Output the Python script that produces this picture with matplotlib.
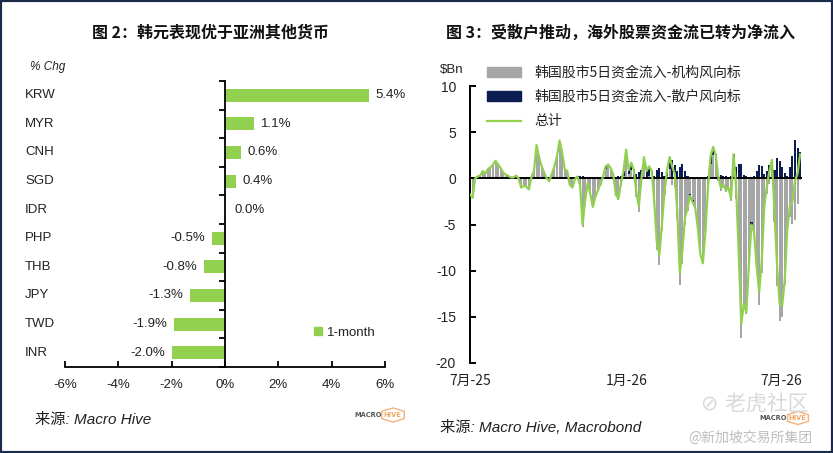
import matplotlib
matplotlib.use("Agg")
import matplotlib.pyplot as plt
from matplotlib import font_manager
from matplotlib.patches import Patch, Rectangle, RegularPolygon
from matplotlib.lines import Line2D
import matplotlib.transforms as mtransforms
import matplotlib.dates as mdates
import numpy as np
import pandas as pd

# ---------------- data ----------------
currencies = ['KRW', 'MYR', 'CNH', 'SGD', 'IDR', 'PHP', 'THB', 'JPY', 'TWD', 'INR']
chg_1m = [5.4, 1.1, 0.6, 0.4, 0.0, -0.5, -0.8, -1.3, -1.9, -2.0]
left_xticks = [-6, -4, -2, 0, 2, 4, 6]

flow_start = '2025-07-01'
flow_step_days = 3
total_flow = [
    -1.75, -2.1, 0.0, 0.2, 0.3, 0.8, 0.5, 1.0, 1.2, 1.5,
    1.9, 1.5, 1.1, 0.6, 0.4, 0.25, 0.1, 0.1, 0.3, 0.0,
    -1.0, -0.8, -0.9, -1.2, 0.1, 0.8, 3.6, 2.3, 1.3, 0.6,
    0.0, -0.3, 0.5, 1.3, 2.4, 4.1, 2.8, 1.0, 0.8, -0.7,
    -1.0, -0.1, 0.2, -0.7, -5.0, -2.4, -0.5, -1.7, -3.1, -2.0,
    -1.3, -0.6, 0.2, 1.3, 1.5, 1.1, 0.4, -1.8, -2.2, -0.5,
    0.8, 3.1, 0.9, 1.7, 0.9, -1.5, -3.0, 0.0, 2.3, 0.8,
    1.3, 0.8, -2.5, -6.9, -8.3, -5.0, -1.5, 0.9, 2.3, 1.3,
    0.5, -3.6, -10.3, -7.8, -4.3, -3.2, -1.9, -2.6, -3.2, -5.3,
    -8.2, -9.2, -5.8, -1.0, 2.4, 3.4, 2.6, 0.2, -1.0, -0.7,
    -1.3, -1.0, -2.2, 2.6, -1.0, -8.0, -15.8, -13.6, -14.5, -9.2,
    -5.0, -5.8, -9.5, -12.3, -9.0, -3.0, -0.9, 0.8, 2.0, -3.8,
    -9.5, -13.6, -13.8, -11.0, -5.5, -3.0, -2.5, -0.3, 0.5, 2.6,
]
retail_flow = [
    0.0, 0.0, 0.0, 0.0, 0.0, 0.0, 0.0, 0.0, 0.0, 0.0,
    0.0, 0.0, 0.0, 0.0, 0.0, 0.0, 0.0, 0.0, 0.0, 0.0,
    0.0, 0.0, 0.0, 0.0, 0.0, 0.0, 0.0, 0.0, 0.0, 0.0,
    0.0, 0.0, 0.0, 0.0, 0.0, 0.0, 0.0, 0.0, 0.0, 0.0,
    0.0, 0.1, 0.3, 0.2, 0.3, 0.1, 0.0, 0.0, 0.0, 0.0,
    0.0, 0.1, 0.2, 0.3, 0.1, 0.0, 0.0, 0.1, 0.2, 0.3,
    0.5, 0.6, 0.4, 0.8, 1.0, 0.5, 0.7, 0.9, 0.6, 0.8,
    1.0, 0.5, 0.3, 0.9, 1.1, 0.7, 0.3, 0.6, 1.3, 2.0,
    1.4, 0.8, 1.2, 1.5, 0.8, 0.3, -0.2, -0.3, 0.0, 0.0,
    0.0, 0.0, 0.0, 0.3, 0.8, 0.9, 0.6, 0.5, 0.4, 0.3,
    0.2, 0.1, 0.3, 0.6, 1.2, 1.6, 1.5, 0.4, 0.2, -0.2,
    -0.3, 0.2, 0.8, 1.4, 1.3, 0.5, 0.8, 1.4, 1.0, 0.9,
    2.2, 1.9, 1.2, 0.6, 0.3, 1.2, 2.4, 4.2, 3.3, 2.8,
]
inst_flow = [
    -1.75, -2.1, 0.0, 0.2, 0.3, 0.8, 0.5, 1.0, 1.2, 1.5,
    1.9, 1.5, 1.1, 0.6, 0.4, 0.25, 0.1, 0.1, 0.3, 0.0,
    -1.0, -0.8, -0.9, -1.2, 0.1, 0.8, 3.4, 2.3, 1.3, 0.6,
    0.0, -0.3, 0.5, 1.3, 2.4, 3.9, 2.8, 1.0, 0.8, -0.7,
    -1.0, -0.2, -0.1, -0.9, -5.3, -2.5, -0.5, -1.7, -3.1, -2.0,
    -1.3, -0.7, 0.0, 1.0, 1.4, 1.1, 0.4, -1.9, -2.4, -0.8,
    0.3, 2.5, 0.5, 0.9, -0.1, -2.0, -3.7, -0.9, 1.7, 0.0,
    0.3, 0.3, -2.8, -7.8, -9.4, -5.7, -1.8, 0.3, 1.0, -0.7,
    -0.9, -4.4, -11.5, -9.3, -5.1, -3.5, -1.7, -2.3, -3.2, -5.3,
    -8.2, -9.2, -5.8, -1.3, 1.6, 2.5, 2.0, -0.3, -1.4, -1.0,
    -1.5, -1.1, -2.5, 2.0, -2.2, -9.6, -17.3, -14.0, -14.7, -9.0,
    -4.7, -6.0, -10.3, -13.7, -10.3, -3.5, -1.7, -0.6, 1.0, -4.7,
    -11.7, -15.5, -15.0, -11.6, -5.8, -4.2, -4.9, -4.5, -2.8, -0.2,
]
right_xtick_dates = ['2025-07-01', '2026-01-01', '2026-07-01']
right_xtick_labels = ['7月-25', '1月-26', '7月-26']
right_yticks = [-20, -15, -10, -5, 0, 5, 10]

# ---------------- fonts / colours ----------------
avail = {f.name for f in font_manager.fontManager.ttflist}
latin = 'Liberation Sans Narrow' if 'Liberation Sans Narrow' in avail else 'Liberation Sans'
FAM = [latin, 'Noto Sans CJK SC', 'DejaVu Sans']
CJK = ['Noto Sans CJK SC', 'DejaVu Sans']
plt.rcParams['font.family'] = FAM

GREEN = '#92D050'
GRAY = '#A6A6A6'
NAVY = '#0B1D51'
TXT = '#222222'

W, H = 833, 453
fig = plt.figure(figsize=(W / 100, H / 100), dpi=100)
fig.patch.set_facecolor('white')

def fx(px):
    return px / W

def fy(py):
    return 1 - py / H

# border
fig.patches.append(Rectangle((0, 0), 1, 1, transform=fig.transFigure, fill=False,
                             edgecolor='#1C2B4A', linewidth=3.0, zorder=10))

# ---------------- left panel ----------------
axL = fig.add_axes([fx(65), fy(367), fx(385) - fx(65), fy(81) - fy(367)])
ypos = np.arange(len(currencies))
axL.barh(ypos, chg_1m, height=0.45, color=GREEN, label='1-month', zorder=2)
axL.set_xlim(left_xticks[0], left_xticks[-1])
axL.set_ylim(len(currencies) - 0.5, -0.5)
for s in ['top', 'right']:
    axL.spines[s].set_visible(False)
axL.spines['left'].set_position(('data', 0))
for s in ['left', 'bottom']:
    axL.spines[s].set_linewidth(1.3)
    axL.spines[s].set_color('black')
axL.set_yticks(np.arange(-0.5, len(currencies) + 0.5, 1.0))
axL.set_yticklabels([])
axL.tick_params(axis='y', direction='out', length=4, width=1.3)
axL.set_xticks(left_xticks)
axL.set_xticklabels([f'{v}%' for v in left_xticks], fontsize=9.5, color=TXT)
axL.tick_params(axis='x', direction='in', length=4, width=1.3, pad=9)

trans_lab = mtransforms.blended_transform_factory(fig.transFigure, axL.transData)
for i, (c, v) in enumerate(zip(currencies, chg_1m)):
    fig.text(fx(25), i, c, transform=trans_lab, ha='left', va='center',
             fontsize=9.5, color=TXT)
    if v > 0:
        axL.text(v + 0.25, i, f'{v:.1f}%', ha='left', va='center', fontsize=9.5, color=TXT)
    elif v < 0:
        axL.text(v - 0.25, i, f'{v:.1f}%', ha='right', va='center', fontsize=9.5, color=TXT)
    else:
        axL.text(0.35, i, f'{v:.1f}%', ha='left', va='center', fontsize=9.5, color=TXT)

legL = axL.legend(handles=[Patch(color=GREEN, label='1-month')], loc='center left',
                  bbox_to_anchor=(0.74, 0.12), frameon=False, fontsize=9.5,
                  handlelength=0.6, handleheight=0.6, handletextpad=0.4)
for t in legL.get_texts():
    t.set_color(TXT)

fig.text(fx(210), fy(33), '图 2：韩元表现优于亚洲其他货币', ha='center', va='center',
         fontsize=11.5, fontweight='bold', family=CJK, color='#111111')
fig.text(fx(30), fy(67), '% Chg', ha='left', va='center', fontsize=8.5,
         style='italic', color=TXT)
fig.text(fx(35), fy(420), '来源: Macro Hive', ha='left', va='center', fontsize=11,
         style='italic', color=TXT)

# ---------------- right panel ----------------
dates = pd.date_range(flow_start, periods=len(total_flow), freq=f'{flow_step_days}D')
xnum = mdates.date2num(dates)
inst = np.array(inst_flow)
ret = np.array(retail_flow)
tot = np.array(total_flow)

axR = fig.add_axes([fx(470), fy(363), fx(806) - fx(470), fy(86) - fy(363)])
x0 = mdates.date2num(pd.Timestamp('2025-07-01'))
x1 = x0 + (806 - 470) / 0.853
axR.set_xlim(x0, x1)
axR.set_ylim(-20, 10)
bw = 2.4
axR.bar(xnum, inst, width=bw, color=GRAY, linewidth=0, zorder=2)
ret_bottom = np.where(ret >= 0, np.maximum(inst, 0), np.minimum(inst, 0))
axR.bar(xnum, ret, bottom=ret_bottom, width=bw, color=NAVY, linewidth=0, zorder=2)
axR.plot([x0, xnum[-1] + 1.5], [0, 0], color='black', lw=1.4, zorder=3)
axR.plot(xnum, tot, color=GREEN, lw=1.6, zorder=4)

for s in ['top', 'right', 'bottom']:
    axR.spines[s].set_visible(False)
axR.spines['left'].set_linewidth(1.4)
axR.set_yticks(right_yticks)
axR.set_yticklabels([str(v) for v in right_yticks], fontsize=10, color=TXT)
axR.tick_params(axis='y', direction='in', length=4, width=1.4, pad=10)
axR.set_xticks(mdates.date2num(pd.to_datetime(right_xtick_dates)))
axR.set_xticklabels(right_xtick_labels, fontsize=10, color=TXT, family=CJK)
axR.tick_params(axis='x', length=0, pad=8)

fig.text(fx(440), fy(70), '$Bn', ha='left', va='center', fontsize=9.5, color=TXT)
handles = [Patch(color=GRAY, label='韩国股市5日资金流入-机构风向标'),
           Patch(color=NAVY, label='韩国股市5日资金流入-散户风向标'),
           Line2D([0], [0], color=GREEN, lw=1.6, label='总计')]
legR = fig.legend(handles=handles, loc='upper left', bbox_to_anchor=(fx(481), fy(60)),
                  frameon=False, prop={'family': CJK, 'size': 10},
                  handlelength=2.5, handleheight=0.7, handletextpad=0.95,
                  labelspacing=0.75, borderaxespad=0)
for t in legR.get_texts():
    t.set_color(TXT)

fig.text(fx(620), fy(33), '图 3：受散户推动，海外股票资金流已转为净流入', ha='center',
         va='center', fontsize=11.5, fontweight='bold', family=CJK, color='#111111')
fig.text(fx(440), fy(428), '来源: Macro Hive, Macrobond', ha='left', va='center',
         fontsize=11, style='italic', color=TXT)

# ---------------- logos ----------------
def logo(cx, cy, r):
    fig.patches.append(RegularPolygon((fx(cx), fy(cy)), numVertices=6, radius=r / W,
                                      orientation=0, transform=fig.transFigure,
                                      fill=False, edgecolor='#F3B27A', lw=1.0))
    fig.text(fx(cx - 11), fy(cy), 'MACRO', ha='right', va='center', fontsize=4.8,
             color='#555555', family='DejaVu Sans', fontweight='bold')
    fig.text(fx(cx - 10), fy(cy), 'HIVE', ha='left', va='center', fontsize=4.8,
             color='#F0A868', family='DejaVu Sans', fontweight='bold')

logo(393, 415, 13)
logo(798, 418, 12)

# watermark
fig.text(fx(755), fy(404), '⊘ 老虎社区', ha='center', va='center', fontsize=15,
         color='#D9D9D9', family=['DejaVu Sans', 'Noto Sans CJK SC'])
fig.text(fx(750), fy(438), '@新加坡交易所集团', ha='center', va='center', fontsize=10,
         color='#BDBDBD', family=CJK)

fig.savefig('out.png', dpi=100, facecolor='white')
